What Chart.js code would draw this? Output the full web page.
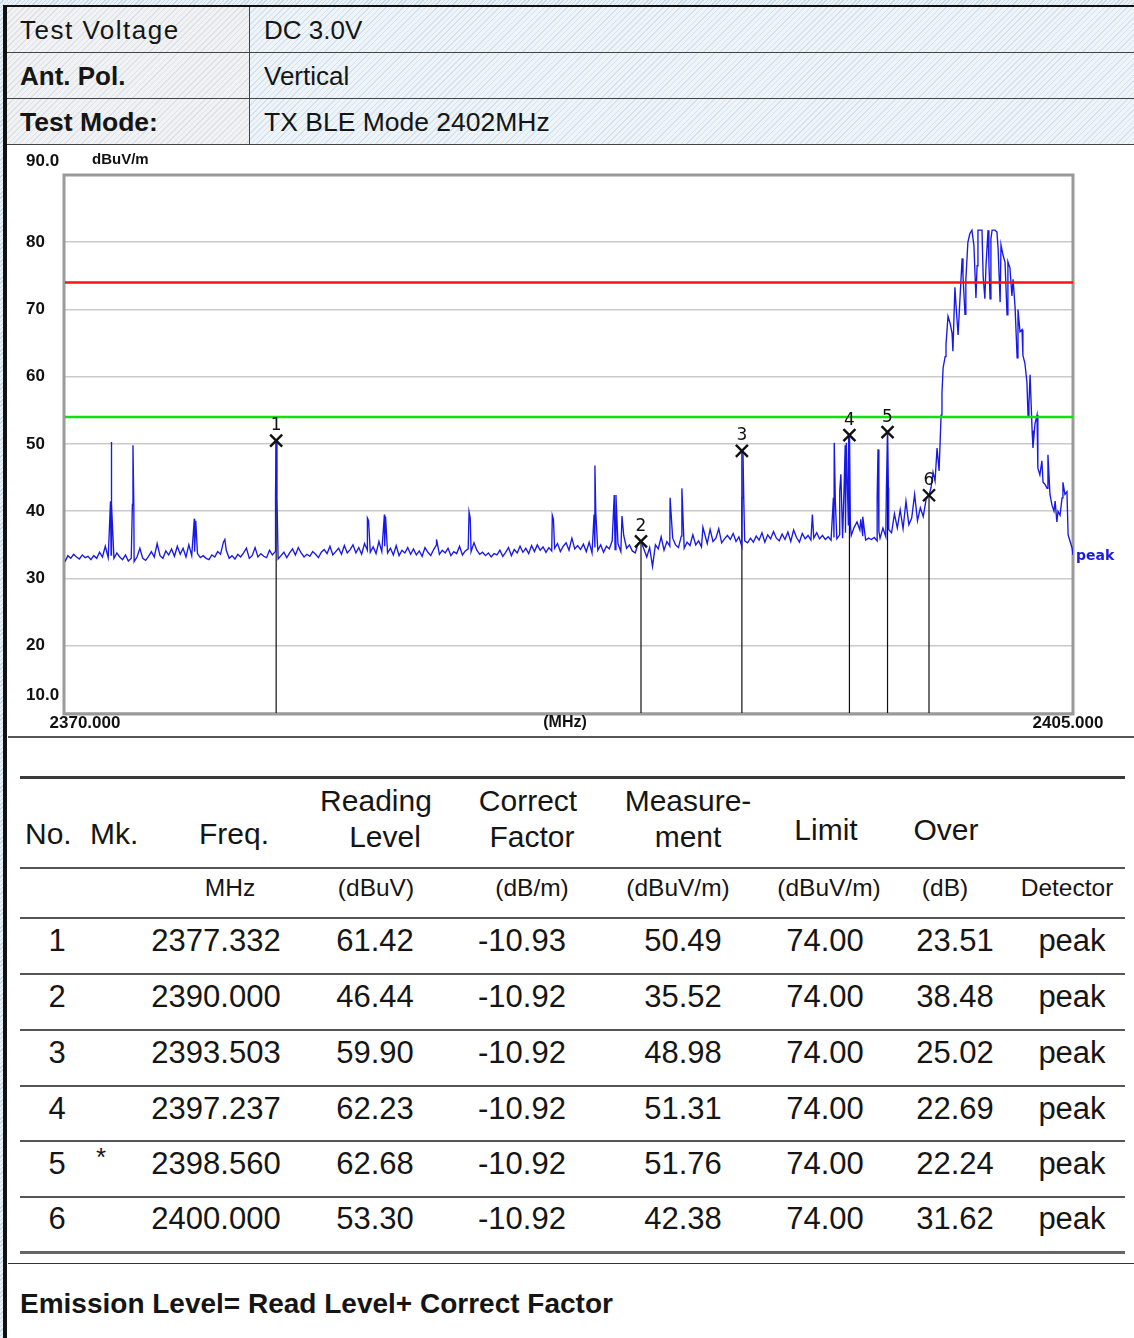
<!DOCTYPE html>
<html>
<head>
<meta charset="utf-8">
<script src="https://cdn.jsdelivr.net/npm/chart.js@4.4.1/dist/chart.umd.min.js"></script>
<style>
  body { margin:0; width:1134px; height:1338px; overflow:hidden; position:relative;
    font-family:"Liberation Sans", Arial, sans-serif; color:#151515;
    background: repeating-linear-gradient(135deg, #eaf2f8 0 2px, #c6d9e8 2px 3px); }
  .abs { position:absolute; box-sizing:border-box; }
  #page { left:3px; top:5px; width:1131px; height:1333px; background:#fff;
    border-left:4px solid #111; border-top:2px solid #111; }
  .hcell { height:46px; display:flex; align-items:center; font-size:26px; padding-left:13px; padding-top:2px;
    border-bottom:1px solid #444; }
  .hl { left:7px; width:243px; border-right:1px solid #444;
    background: repeating-linear-gradient(135deg, rgba(170,180,190,0.28) 0 1px, transparent 1px 4px), #f1f2f3; }
  .hr { left:250px; width:884px; padding-left:14px;
    background: repeating-linear-gradient(135deg, rgba(150,185,210,0.30) 0 1px, transparent 1px 4px), #eef4f8; }
  #chartBox { left:8px; top:146px; width:1126px; height:591px; background:#fff; }
  .txt { position:absolute; white-space:nowrap; transform:translate(-50%,-50%); line-height:1; }
  .txtL { position:absolute; white-space:nowrap; transform:translateY(-50%); line-height:1; }
</style>
</head>
<body>
<div id="page" class="abs"></div>

<div class="abs hcell hl" style="top:7px;letter-spacing:1.5px;">Test Voltage</div>
<div class="abs hcell hr" style="top:7px;">DC 3.0V</div>
<div class="abs hcell hl" style="top:53px;font-weight:bold;">Ant. Pol.</div>
<div class="abs hcell hr" style="top:53px;">Vertical</div>
<div class="abs hcell hl" style="top:99px;font-weight:bold;font-size:26.5px;">Test Mode:</div>
<div class="abs hcell hr" style="top:99px;font-size:26.5px;">TX BLE Mode 2402MHz</div>

<div id="chartBox" class="abs"><canvas id="scan"></canvas></div>
<div class="abs" style="left:8px;top:736px;width:1126px;height:2px;background:#555;"></div>

<div id="table"></div>

<script>
// sweep range and floor trace (0.1 MHz steps from 2370.0 to 2400.0)
const freqStart = 2370;
const freqStop = 2405;
const floorStep = 0.1;
const floorLevels = [
  32.5, 33.4, 33.0, 33.6, 33.2, 32.9, 33.5, 33.1, 33.3, 32.8,
  33.4, 33.0, 33.9, 33.2, 34.8, 33.1, 33.5, 33.0, 33.8, 33.2,
  32.8, 33.5, 32.6, 33.0, 32.5, 33.2, 34.5, 33.0, 32.7, 33.3,
  34.0, 33.2, 35.2, 33.4, 33.0, 34.1, 33.5, 34.4, 33.3, 34.8,
  33.6, 34.5, 33.2, 35.0, 33.4, 34.0, 33.7, 33.1, 33.4, 33.0,
  32.8, 33.5, 33.2, 34.0, 33.6, 35.4, 34.2, 33.0, 33.4, 32.9,
  33.6, 33.2, 33.8, 34.5, 33.0, 33.4, 34.6, 33.2, 33.7, 33.3,
  33.1, 34.2, 33.5, 34.0, 32.9, 33.4, 33.9, 33.1, 33.8, 34.4,
  33.5, 34.6, 33.8, 33.2, 33.6, 33.3, 34.0, 33.6, 33.1, 33.9,
  34.3, 33.7, 34.8, 33.5, 34.0, 34.5, 33.6, 34.9, 33.8, 34.3,
  35.0, 33.8, 34.6, 33.6, 35.2, 34.2, 33.9, 34.7, 33.7, 35.5,
  34.0, 34.8, 33.8, 34.5, 33.5, 34.9, 33.4, 34.2, 33.8, 34.6,
  33.6, 34.4, 33.5, 34.1, 33.3, 34.6, 33.9, 33.4, 34.3, 35.0,
  33.6, 34.2, 33.8, 34.5, 33.4, 34.0, 33.7, 34.8, 33.5, 34.1,
  34.4, 34.0, 35.3, 34.2, 33.6, 33.9, 33.4, 33.8, 33.2, 33.7,
  33.5, 34.2, 33.3, 33.9, 34.6, 33.4, 34.3, 33.8, 34.8, 33.9,
  34.5, 33.7, 34.9, 34.0, 35.0, 34.2, 34.7, 33.9, 34.6, 34.1,
  34.5, 35.2, 34.0, 34.8, 35.3, 34.2, 36.0, 34.4, 34.9, 34.3,
  35.1, 34.0, 35.4, 33.8, 34.6, 34.2, 35.0, 33.9, 34.8, 34.4,
  35.6, 34.3, 35.2, 34.0, 36.4, 34.5, 35.0, 34.1, 33.8, 35.2,
  35.5, 34.4, 33.2, 34.6, 31.8, 35.0, 34.4, 36.2, 34.2, 35.5,
  34.8, 36.0, 35.0, 34.6, 36.3, 34.5, 35.4, 34.9, 36.5, 35.0,
  35.6, 34.7, 36.8, 35.2, 37.3, 35.5, 36.0, 37.4, 35.3, 35.9,
  36.4, 35.8, 36.7, 35.5, 36.2, 34.8, 35.6, 35.3, 36.0, 35.4,
  36.3, 35.7, 36.8, 35.4, 36.5, 35.9, 37.0, 36.0, 35.6, 36.6,
  35.8, 36.9, 35.5, 37.2, 36.1, 35.4, 36.7, 35.9, 36.4, 35.7,
  36.0, 36.8, 35.9, 36.4, 35.8, 36.2, 35.7, 36.1, 35.9, 36.5,
  36.0, 36.8, 38.0, 36.4, 37.6, 38.4, 37.2, 36.3, 35.7, 36.0,
  35.8, 36.1, 35.6, 36.0, 37.5, 36.2, 37.3, 36.8, 39.6, 37.5,
  40.2, 37.4, 41.5, 38.0, 39.0, 42.5, 38.6, 40.5, 39.2, 41.8,
  42.4
];

// narrow spurs on top of the floor: [MHz, dBuV/m]
const spikePoints = [
  [2371.58, 41.5], [2371.60, 50.3], [2371.63, 41.0],
  [2372.34, 41.0], [2372.36, 49.8], [2372.39, 40.8],
  [2374.49, 38.9], [2374.54, 38.6],
  [2375.55, 35.8],
  [2377.31, 42.6], [2377.33, 50.49], [2377.36, 42.0],
  [2380.50, 39.0], [2380.54, 38.6],
  [2381.09, 39.5], [2381.13, 39.2],
  [2382.90, 35.8],
  [2384.03, 39.9], [2384.07, 39.0],
  [2386.92, 39.4], [2386.96, 38.8],
  [2388.37, 39.5], [2388.40, 46.8], [2388.43, 39.8],
  [2389.07, 42.4], [2389.13, 42.4],
  [2389.34, 39.3],
  [2391.01, 42.0],
  [2391.42, 43.4],
  [2392.15, 37.6],
  [2393.51, 42.0], [2393.54, 48.98], [2393.57, 41.5],
  [2395.95, 39.5],
  [2396.68, 42.0], [2396.71, 50.2], [2396.75, 41.2],
  [2396.90, 43.0], [2396.94, 45.5],
  [2397.06, 44.8], [2397.09, 49.8], [2397.13, 50.2],
  [2397.21, 51.3], [2397.24, 51.31], [2397.27, 38.0],
  [2397.63, 38.8], [2397.70, 39.2],
  [2398.20, 42.0], [2398.23, 49.2], [2398.26, 37.0],
  [2398.52, 43.2], [2398.56, 51.76], [2398.59, 43.5]
];

// fundamental emission 2400 - 2405 MHz: [MHz, dBuV/m]
const bandPoints = [
  [2400.07, 43.5], [2400.14, 45.8], [2400.21, 44.5], [2400.28, 49.4], [2400.35, 46.0],
  [2400.42, 54.3], [2400.45, 57.5], [2400.49, 61.3], [2400.56, 63.0], [2400.59, 64.8],
  [2400.66, 69.0], [2400.73, 68.0], [2400.80, 66.5], [2400.83, 63.8], [2400.90, 73.3],
  [2400.94, 70.5], [2401.01, 66.2], [2401.08, 72.0], [2401.15, 77.6], [2401.18, 75.0],
  [2401.25, 69.3], [2401.28, 74.5], [2401.35, 80.0], [2401.42, 81.3], [2401.49, 81.8],
  [2401.56, 79.5], [2401.63, 71.7], [2401.67, 76.5], [2401.70, 81.8], [2401.77, 81.8],
  [2401.84, 81.8], [2401.88, 75.0], [2401.94, 71.6], [2401.98, 76.6], [2402.05, 81.8],
  [2402.08, 77.0], [2402.12, 71.6], [2402.15, 80.5], [2402.19, 81.8], [2402.29, 81.8],
  [2402.36, 81.5], [2402.40, 79.0], [2402.47, 71.1], [2402.50, 79.6], [2402.57, 78.1],
  [2402.64, 77.0], [2402.71, 69.2], [2402.74, 77.1], [2402.81, 76.2], [2402.88, 72.0],
  [2402.92, 74.5], [2402.99, 70.2], [2403.06, 62.8], [2403.09, 70.0], [2403.16, 66.7],
  [2403.23, 67.0], [2403.26, 63.2], [2403.33, 62.0], [2403.40, 59.2], [2403.44, 54.0],
  [2403.47, 56.0], [2403.51, 60.3], [2403.58, 52.0], [2403.61, 49.4], [2403.68, 53.0],
  [2403.75, 54.3], [2403.78, 46.4], [2403.85, 45.4], [2403.92, 47.5], [2403.96, 44.3],
  [2404.03, 44.0], [2404.10, 43.4], [2404.13, 48.4], [2404.20, 42.5], [2404.27, 40.9],
  [2404.34, 40.0], [2404.38, 41.5], [2404.44, 38.4], [2404.48, 40.0], [2404.55, 39.4],
  [2404.62, 42.0], [2404.65, 44.3], [2404.72, 42.5], [2404.79, 42.9], [2404.83, 36.5],
  [2404.90, 35.5], [2404.97, 34.5], [2405.00, 33.5]
];

const peakLimit = 74;
const avgLimit = 54;
const yTicks = [10, 20, 30, 40, 50, 60, 70, 80, 90];
const yTickLabels = ['10.0', '20', '30', '40', '50', '60', '70', '80', '90.0'];

// marker table
const markerNo = [1, 2, 3, 4, 5, 6];
const markerFlag = ['', '', '', '', '*', ''];
const markerFreq = [2377.332, 2390.000, 2393.503, 2397.237, 2398.560, 2400.000];
const readingLevel = [61.42, 46.44, 59.90, 62.23, 62.68, 53.30];
const correctFactor = [-10.93, -10.92, -10.92, -10.92, -10.92, -10.92];
const measurement = [50.49, 35.52, 48.98, 51.31, 51.76, 42.38];
const limitLevel = [74.00, 74.00, 74.00, 74.00, 74.00, 74.00];
const overMargin = [23.51, 38.48, 25.02, 22.69, 22.24, 31.62];
const detector = ['peak', 'peak', 'peak', 'peak', 'peak', 'peak'];

// build the trace
const trace = floorLevels.map((v, i) => ({ x: freqStart + i * floorStep, y: v }));
spikePoints.concat(bandPoints).forEach(p => trace.push({ x: p[0], y: p[1] }));
trace.sort((a, b) => a.x - b.x);

const stems = [];
markerFreq.forEach((f, i) => {
  stems.push({ x: f, y: 10 }, { x: f, y: measurement[i] }, { x: f, y: null });
});

const scopeDecor = {
  id: 'scopeDecor',
  beforeDatasetsDraw(chart) {
    const { ctx, chartArea: a } = chart;
    ctx.save();
    ctx.strokeStyle = '#9a9a9a';
    ctx.lineWidth = 3;
    ctx.strokeRect(a.left - 1, a.top, a.right - a.left + 1, a.bottom - a.top + 1);
    ctx.restore();
  },
  afterDraw(chart) {
    const { ctx, chartArea: a } = chart;
    const xs = chart.scales.x, ys = chart.scales.y;
    const lastLevel = bandPoints[bandPoints.length - 1][1];
    ctx.save();
    ctx.fillStyle = '#111';
    ctx.font = 'bold 17px "Liberation Sans"';
    ctx.textBaseline = 'middle';
    ctx.textAlign = 'left';
    yTicks.forEach((t, i) => {
      let y = ys.getPixelForValue(t);
      if (t === 90) y -= 14;
      if (t === 10) y -= 18;
      ctx.fillText(yTickLabels[i], 18, y);
    });
    ctx.font = 'bold 15px "Liberation Sans"';
    ctx.fillText('dBuV/m', 84, 14);
    ctx.font = 'bold 17px "Liberation Sans"';
    ctx.textAlign = 'center';
    const yb = a.bottom + 10;
    ctx.fillText('2370.000', xs.getPixelForValue(freqStart) + 20, yb);
    ctx.font = 'bold 16px "Liberation Sans"';
    ctx.fillText('(MHz)', 557, yb);
    ctx.font = 'bold 17px "Liberation Sans"';
    ctx.fillText('2405.000', xs.getPixelForValue(freqStop) - 5, yb);
    ctx.fillStyle = '#1a1ae0';
    ctx.textAlign = 'left';
    ctx.font = 'bold 14px "DejaVu Sans"';
    ctx.fillText('peak', a.right + 3, ys.getPixelForValue(lastLevel) + 1);
    ctx.fillStyle = '#111';
    ctx.textAlign = 'center';
    ctx.font = '17px "DejaVu Sans"';
    markerFreq.forEach((f, i) => {
      ctx.fillText(String(markerNo[i]), xs.getPixelForValue(f), ys.getPixelForValue(measurement[i]) - 15);
    });
    ctx.restore();
  }
};

new Chart(document.getElementById('scan'), {
  type: 'line',
  data: {
    datasets: [
      { data: [{ x: freqStart, y: peakLimit }, { x: freqStop, y: peakLimit }], borderColor: '#ff1010', borderWidth: 2.5, pointRadius: 0, order: 0 },
      { data: [{ x: freqStart, y: avgLimit }, { x: freqStop, y: avgLimit }], borderColor: '#10e010', borderWidth: 2.5, pointRadius: 0, order: 0 },
      { type: 'scatter', data: markerFreq.map((f, i) => ({ x: f, y: measurement[i] })), pointStyle: 'crossRot', pointRadius: 8.5, pointBorderWidth: 2.4, pointBorderColor: '#111', order: 1 },
      { data: trace, borderColor: '#1818e8', borderWidth: 1.35, pointRadius: 0, tension: 0, order: 2 },
      { data: stems, borderColor: '#111', borderWidth: 1.2, pointRadius: 0, spanGaps: false, order: 3 }
    ]
  },
  options: {
    responsive: true,
    maintainAspectRatio: false,
    animation: false,
    events: [],
    layout: { padding: { left: 57, top: 29, right: 61, bottom: 16 } },
    plugins: { legend: { display: false }, tooltip: { enabled: false } },
    scales: {
      x: { type: 'linear', min: freqStart, max: freqStop, ticks: { display: false }, grid: { display: false }, border: { display: false } },
      y: { min: 10, max: 90, ticks: { display: false, stepSize: 10 }, grid: { color: '#cacaca', lineWidth: 1.6, drawTicks: false }, border: { display: false } }
    }
  },
  plugins: [scopeDecor]
});

// marker table
const tbl = document.getElementById('table');
function put(text, cx, cy, size, extra) {
  const d = document.createElement('div');
  d.className = 'txt';
  d.textContent = text;
  d.style.left = cx + 'px';
  d.style.top = cy + 'px';
  d.style.fontSize = size + 'px';
  if (extra) Object.assign(d.style, extra);
  tbl.appendChild(d);
}
function putL(text, x, cy, size, extra) {
  const d = document.createElement('div');
  d.className = 'txtL';
  d.textContent = text;
  d.style.left = x + 'px';
  d.style.top = cy + 'px';
  d.style.fontSize = size + 'px';
  if (extra) Object.assign(d.style, extra);
  tbl.appendChild(d);
}
function rule(y, h, color, x0, x1) {
  const d = document.createElement('div');
  d.className = 'abs';
  x0 = x0 || 20; x1 = x1 || 1125;
  Object.assign(d.style, { left: x0 + 'px', top: y + 'px', width: (x1 - x0) + 'px', height: h + 'px', background: color });
  tbl.appendChild(d);
}
rule(776, 3, '#3a3a3a');
rule(867, 2, '#555');
rule(917, 2, '#555');
[973, 1029, 1085, 1140, 1196].forEach(y => rule(y, 2, '#555'));
rule(1251, 3, '#666');
rule(1263, 1, '#333', 8, 1134);

putL('No.', 25, 834, 30);
putL('Mk.', 90, 834, 30);
put('Freq.', 234, 834, 30);
put('Reading', 376, 801, 30);
put('Level', 385, 837, 30);
put('Correct', 528, 801, 30);
put('Factor', 532, 837, 30);
put('Measure-', 688, 801, 30);
put('ment', 688, 837, 30);
put('Limit', 826, 830, 30);
put('Over', 946, 830, 30);

const unitY = 888;
put('MHz', 230, unitY, 24.5);
put('(dBuV)', 376, unitY, 24.5);
put('(dB/m)', 532, unitY, 24.5);
put('(dBuV/m)', 678, unitY, 24.5);
put('(dBuV/m)', 829, unitY, 24.5);
put('(dB)', 945, unitY, 24.5);
put('Detector', 1067, unitY, 24.5);

const rowY = [940, 996, 1052, 1108, 1163, 1218];
markerNo.forEach((n, i) => {
  const y = rowY[i];
  put(String(n), 57, y, 31);
  if (markerFlag[i]) put(markerFlag[i], 101, y - 6, 26);
  put(markerFreq[i].toFixed(3), 216, y, 31);
  put(readingLevel[i].toFixed(2), 375, y, 31);
  put(correctFactor[i].toFixed(2), 522, y, 31);
  put(measurement[i].toFixed(2), 683, y, 31);
  put(limitLevel[i].toFixed(2), 825, y, 31);
  put(overMargin[i].toFixed(2), 955, y, 31);
  put(detector[i], 1072, y, 31);
});

putL('Emission Level= Read Level+ Correct Factor', 20, 1304, 28, { fontWeight: 'bold' });
</script>
</body>
</html>
